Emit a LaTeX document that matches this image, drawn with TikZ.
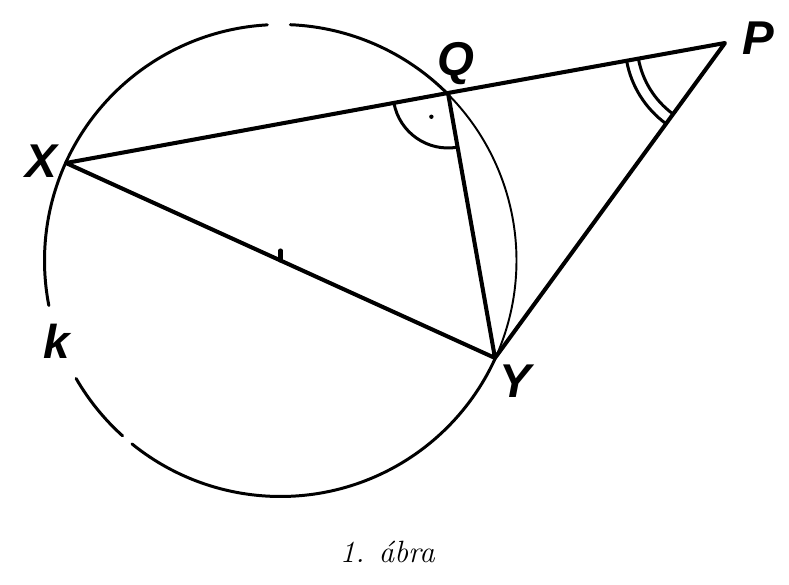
\documentclass[tikz,border=0pt]{standalone}
\usepackage{fontspec}
\newfontfamily\lblfont{Liberation Sans}
\usetikzlibrary{angles}
\tikzset{lbl/.style={font=\lblfont\bfseries\itshape\fontsize{27}{30}\selectfont},
	kline/.style={line width=1.7pt}}
\begin{document}
\begin{tikzpicture}[x=0.02cm,y=0.02cm,line width=2.3pt, line join=round, line cap=round]
				\useasboundingbox (0,0) rectangle (789,585);
				\coordinate (X) at (66,422);
				\coordinate (Q) at (448,492);
				\coordinate (P) at (725,542);
				\coordinate (Y) at (495,227);
				\coordinate (O) at (280.5,324.5);
				% the circle k, drawn with its breaks
				\draw[kline] (O) ++(93.2:236) arc (93.2:191:236);
				\draw[kline] (O) ++(210:236) arc (210:228:236);
				\draw[kline] (O) ++(231:236) arc (231:335.6:236);
				\draw[line width=1.1pt] (O) ++(335.6:236) arc (335.6:404.8:236);
				\draw[kline] (O) ++(404.8:236) arc (404.8:447.6:236);
				\draw (O) -- ++(0,10);
				\draw (X)--(Q)--(P)--(Y)--(X) (Q)--(Y);
				% angle marks
				\pic[draw,kline,angle radius=1.1cm] {angle=X--Q--Y};
				\fill (Q) ++(235:29) circle(2.2);
				\pic[draw,kline,angle radius=1.76cm] {angle=Q--P--Y};
				\pic[draw,kline,angle radius=2cm] {angle=Q--P--Y};
				\node[lbl] (lX) at (41,424) {X};
				\node[lbl] (lQ) at (456,521) {Q};
				\node[lbl] (lP) at (758,547) {P};
				\node[lbl] (lY) at (515,204) {Y};
				\node[lbl] (lk) at (57,244) {k};
				\node[anchor=base,font=\fontsize{17.5}{20}\selectfont] (cap) at (387.5,22) {\textit{1. ábra}};
			\end{tikzpicture}
\end{document}
